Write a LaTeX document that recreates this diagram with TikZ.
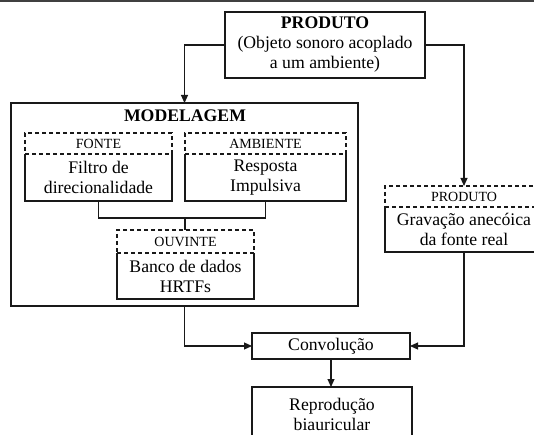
\documentclass[tikz,border=0pt]{standalone}
\usepackage{fontspec}
\setmainfont{Liberation Serif}
\usetikzlibrary{arrows.meta}
\tikzset{
  box/.style={draw=black!90, line width=1.1pt, inner sep=0pt, outer sep=0pt, align=center, anchor=north west, font=\fontsize{17.7}{20}\selectfont},
  hdr/.style={draw=black!90, dash pattern=on 4pt off 3pt, line width=1.1pt, inner sep=0pt, outer sep=0pt, anchor=north west, font=\fontsize{14}{16}\selectfont},
  body/.style={inner sep=0pt, outer sep=0pt, anchor=north west, align=center, font=\fontsize{17.7}{20}\selectfont},
  rim/.style={draw=black!90, line width=1.1pt},
  link/.style={draw=black!90, line width=1.1pt},
  arr/.style={link, -{Triangle[length=8pt,width=7pt]}},
}
\begin{document}
\begin{tikzpicture}[x=1pt,y=-1pt]
\clip (0,0) rectangle (534,435);
\fill[white] (0,0) rectangle (534,435);
\fill[black!75] (0,0) rectangle (534,2);

% top product box
\node[box, minimum width=200pt, minimum height=66pt] (prod) at (225,12)
  {\textbf{PRODUTO}\\(Objeto sonoro acoplado\\a um ambiente)};

% modelagem frame
\node[box, minimum width=347pt, minimum height=203pt] (model) at (11,103) {};
\node[font=\fontsize{17.7}{20}\selectfont\bfseries, inner sep=0pt] (mtitle) at (185,116) {MODELAGEM};

% FONTE
\node[body, minimum width=147pt, minimum height=47pt] (fb) at (25,154) {Filtro de\\direcionalidade};
\draw[rim] (fb.north west) -- (fb.south west) -- (fb.south east) -- (fb.north east);
\node[hdr, minimum width=147pt, minimum height=21pt] (fh) at (25,133) {FONTE};

% AMBIENTE
\node[body, minimum width=161pt, minimum height=47pt] (ab) at (185,154) {Resposta\\Impulsiva};
\draw[rim] (ab.north west) -- (ab.south west) -- (ab.south east) -- (ab.north east);
\node[hdr, minimum width=161pt, minimum height=21pt] (ah) at (185,133) {AMBIENTE};

% OUVINTE
\node[body, minimum width=137pt, minimum height=46pt] (ob) at (117,253) {Banco de dados\\HRTFs};
\draw[rim] (ob.north west) -- (ob.south west) -- (ob.south east) -- (ob.north east);
\node[hdr, minimum width=137pt, minimum height=23pt] (oh) at (117,230) {OUVINTE};

% right PRODUTO
\node[body, minimum width=158pt, minimum height=45pt] (rb) at (385,207) {Grava\c{c}\~ao anec\'oica\\da fonte real};
\draw[rim] (rb.north west) -- (rb.south west) -- (rb.south east) -- (rb.north east);
\node[hdr, minimum width=158pt, minimum height=21pt] (rh) at (385,186) {PRODUTO};

% convolution and reproduction
\node[box, minimum width=158pt, minimum height=26pt] (conv) at (252,333) {Convolu\c{c}\~ao};
\node[box, minimum width=160pt, minimum height=54pt] (repr) at (252,387) {Reprodu\c{c}\~ao\\biauricular};

% connectors
\coordinate (j) at (185,218);
\draw[arr] (prod.west) -| (model.north);
\draw[arr] (prod.east) -| (rh.north);
\draw[link] (fb.south) |- (j) -| (ab.south);
\draw[link] (j) -- (j |- oh.north);
\draw[arr] (model.south) |- (conv.west);
\draw[arr] (rb.south) |- (conv.east);
\draw[arr] (conv.south) -- (conv.south |- repr.north);
\end{tikzpicture}
\end{document}
